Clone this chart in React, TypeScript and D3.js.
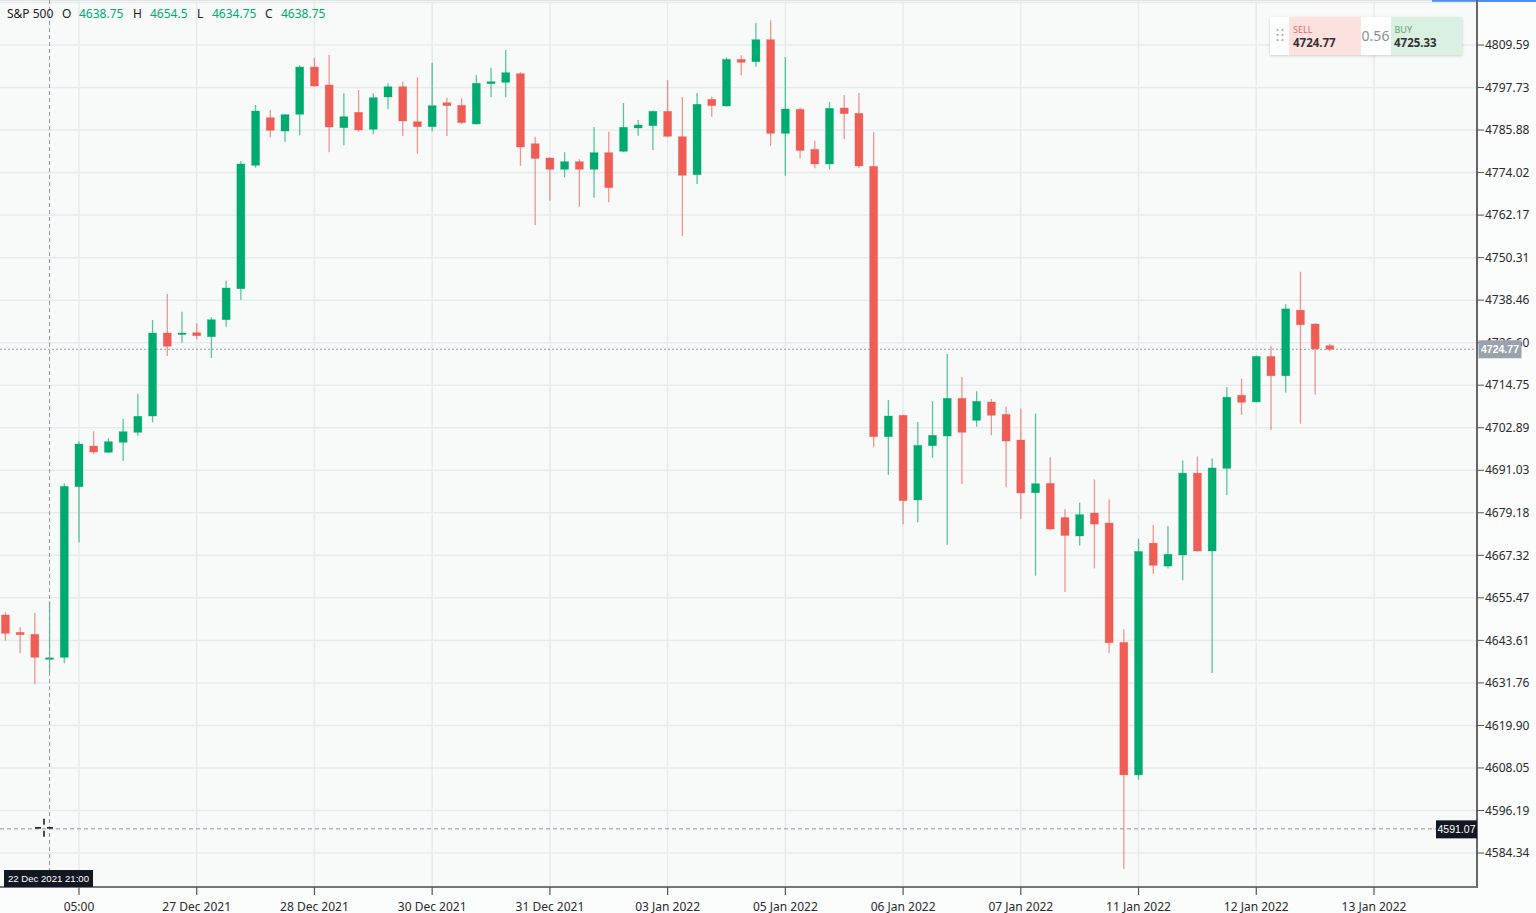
import React from "react";
import * as d3 from "d3";

const openVals = [
  4650.69, 4645.86, 4645.3, 4638.75, 4638.89, 4686.45, 4697.8, 4696.04, 4698.83, 4701.62,
  4706.16, 4729.3, 4728.94, 4729.38, 4728.27, 4733.01, 4741.65, 4776.05, 4789.32, 4785.61,
  4790.27, 4803.46, 4798.44, 4786.53, 4790.83, 4786.09, 4795.09, 4797.96, 4788.21, 4786.81,
  4793.5, 4792.78, 4787.57, 4798.8, 4799.19, 4801.59, 4782.07, 4778.09, 4774.94, 4777.06,
  4774.94, 4779.57, 4779.96, 4786.45, 4787.09, 4791.11, 4784.03, 4773.43, 4794.45, 4792.58,
  4805.6, 4804.93, 4811.07, 4784.97, 4791.66, 4780.51, 4776.42, 4792.03, 4790.55, 4775.77,
  4700.39, 4706.36, 4682.75, 4697.88, 4700.59, 4711.1, 4704.96, 4710.07, 4706.64, 4699.47,
  4684.78, 4687.4, 4677.87, 4672.71, 4679.12, 4676.33, 4643.05, 4606.11, 4670.73, 4664.32,
  4667.41, 4690.24, 4668.53, 4691.56, 4711.96, 4710.09, 4722.78, 4717.37, 4735.68, 4731.81,
  4725.76,
];
const highVals = [
  4651.44, 4647.26, 4651.24, 4654.5, 4687.4, 4699.11, 4701.9, 4699.95, 4705.41, 4712.38,
  4732.93, 4740.17, 4735.24, 4732.01, 4733.68, 4743.88, 4777.25, 4792.86, 4791.47, 4790.35,
  4803.93, 4806.05, 4806.8, 4796.12, 4797.04, 4796.12, 4798.91, 4799.36, 4800.59, 4804.66,
  4794.9, 4794.73, 4801.23, 4803.26, 4808.2, 4801.98, 4784.03, 4778.3, 4779.68, 4777.73,
  4786.73, 4785.42, 4793.42, 4788.68, 4791.3, 4799.75, 4795.01, 4796.21, 4795.18, 4806.16,
  4806.72, 4815.72, 4816.48, 4806.24, 4792.17, 4782.91, 4793.7, 4795.65, 4796.21, 4785.25,
  4710.62, 4706.5, 4704.49, 4710.26, 4723.45, 4717.04, 4713.05, 4710.9, 4708.75, 4708.2,
  4706.8, 4694.73, 4680.24, 4681.96, 4688.49, 4682.86, 4646.67, 4671.93, 4675.8, 4675.58,
  4693.76, 4694.87, 4694.31, 4714.16, 4716.59, 4723.0, 4725.76, 4737.33, 4746.36, 4732.0,
  4726.29,
];
const lowVals = [
  4643.52, 4640.01, 4631.37, 4634.75, 4637.22, 4670.95, 4695.49, 4695.9, 4693.62, 4700.67,
  4704.41, 4722.89, 4726.6, 4727.55, 4722.33, 4731.06, 4738.59, 4775.38, 4783.86, 4782.63,
  4784.42, 4797.96, 4779.68, 4781.63, 4785.42, 4784.69, 4791.66, 4784.22, 4779.29, 4785.53,
  4784.22, 4787.5, 4787.4, 4795.01, 4795.01, 4775.94, 4759.35, 4766.18, 4772.71, 4764.51,
  4767.02, 4765.74, 4779.7, 4784.3, 4780.32, 4783.9, 4756.34, 4770.84, 4789.52, 4792.4,
  4801.14, 4803.54, 4781.52, 4773.15, 4777.95, 4775.22, 4774.94, 4783.3, 4775.3, 4697.44,
  4689.71, 4675.97, 4676.53, 4694.54, 4670.28, 4687.21, 4703.18, 4700.78, 4686.28, 4677.53,
  4661.64, 4674.4, 4657.1, 4670.06, 4663.68, 4640.06, 4579.85, 4604.77, 4662.12, 4663.68,
  4660.36, 4668.4, 4634.54, 4684.17, 4706.44, 4709.9, 4702.26, 4712.74, 4704.01, 4712.18,
  4724.31,
];
const closeVals = [
  4645.58, 4645.19, 4638.89, 4638.75, 4686.56, 4698.36, 4696.13, 4699.0, 4701.79, 4706.08,
  4729.3, 4725.59, 4729.3, 4728.55, 4733.01, 4741.85, 4776.42, 4791.19, 4785.81, 4790.16,
  4803.46, 4798.16, 4786.73, 4789.6, 4785.89, 4794.9, 4797.96, 4788.4, 4786.81, 4792.67,
  4792.67, 4787.93, 4798.91, 4799.36, 4801.87, 4781.15, 4777.95, 4774.94, 4777.06, 4774.94,
  4779.57, 4769.81, 4786.65, 4787.29, 4791.11, 4784.14, 4773.27, 4793.06, 4792.67, 4805.6,
  4804.77, 4811.07, 4784.97, 4791.75, 4780.18, 4776.42, 4791.94, 4790.44, 4775.86, 4700.39,
  4706.16, 4682.55, 4697.99, 4700.78, 4711.1, 4701.62, 4710.26, 4706.36, 4699.19, 4684.7,
  4687.29, 4674.66, 4672.85, 4678.67, 4676.03, 4642.94, 4606.11, 4668.42, 4664.54, 4667.63,
  4690.24, 4668.53, 4691.67, 4711.4, 4709.98, 4722.78, 4717.37, 4736.02, 4731.59, 4724.87,
  4724.77,
];

const yTicks = [
  4584.34, 4596.19, 4608.05, 4619.9, 4631.76, 4643.61, 4655.47, 4667.32, 4679.18, 4691.03,
  4702.89, 4714.75, 4726.6, 4738.46, 4750.31, 4762.17, 4774.02, 4785.88, 4797.73, 4809.59,
];
const extraGrid = [4821.44];
const xTickIdx = [5, 13, 21, 29, 37, 45, 53, 61, 69, 77, 85, 93];
const xTickLabels = [
  "05:00", "27 Dec 2021", "28 Dec 2021", "30 Dec 2021", "31 Dec 2021", "03 Jan 2022",
  "05 Jan 2022", "06 Jan 2022", "07 Jan 2022", "11 Jan 2022", "12 Jan 2022", "13 Jan 2022",
];

const lastPrice = 4724.77;
const buyPrice = 4725.33;
const spread = "0.56";
const crossIdx = 3;
const crossPrice = 4591.07;
const crossTime = "22 Dec 2021 21:00";
const headerName = "S&P 500";

const W = 1536;
const H = 913;
const plotR = 1477;
const plotB = 887;

const GREEN = "#00ab6f";
const RED = "#ef5e55";
const FONT = "'Noto Sans', 'Open Sans', sans-serif";
const LABEL_FONT = "'Liberation Sans', Arial, sans-serif";

export default function App() {
  const x = d3.scaleLinear().domain([0, 93]).range([5.4, 1374]);
  const y = d3.scaleLinear().domain([4584.34, 4809.59]).range([853, 45]);

  const candles = openVals.map((o, i) => ({
    i,
    o,
    h: highVals[i],
    l: lowVals[i],
    c: closeVals[i],
  }));

  const cx = x(crossIdx);
  const cy = y(crossPrice);
  const py = y(lastPrice);
  const curX = 44;
  const curY = cy - 1;

  const o = candles[crossIdx];
  const hdr = [
    { t: headerName, x: 7, col: "#222" },
    { t: "O", x: 62, col: "#222" },
    { t: String(o.o), x: 79, col: GREEN },
    { t: "H", x: 133, col: "#222" },
    { t: String(o.h), x: 150, col: GREEN },
    { t: "L", x: 197, col: "#222" },
    { t: String(o.l), x: 212, col: GREEN },
    { t: "C", x: 265, col: "#222" },
    { t: String(o.c), x: 281, col: GREEN },
  ];

  return (
    <div style={{ position: "absolute", left: 0, top: 0, width: W, height: H }}>
      <svg width={W} height={H} style={{ display: "block", fontFamily: FONT }}>
        <defs>
          <filter id="sh" x="-10%" y="-20%" width="120%" height="150%">
            <feDropShadow dx="0" dy="1" stdDeviation="1.5" floodColor="#000" floodOpacity="0.18" />
          </filter>
        </defs>
        <rect x={0} y={0} width={W} height={H} fill="#fbfcfc" />
        <rect x={0} y={0} width={plotR} height={plotB} fill="#f8fafa" />
        <line x1={0} x2={1432} y1={0.5} y2={0.5} stroke="#e2e5e8" />
        <rect x={1432} y={0} width={W - 1432} height={2} fill="#4a8ef0" />

        {/* grid */}
        {[...yTicks, ...extraGrid].map((t) => (
          <line key={"gy" + t} x1={0} x2={plotR} y1={y(t)} y2={y(t)} stroke="#e6ebeb" strokeWidth={1.5} />
        ))}
        {xTickIdx.map((t) => (
          <line key={"gx" + t} x1={x(t)} x2={x(t)} y1={0} y2={plotB} stroke="#e6ebeb" strokeWidth={1.5} />
        ))}

        {/* price line */}
        <line x1={0} x2={plotR} y1={py} y2={py} stroke="#9aa1b4" strokeWidth={1} strokeDasharray="2,2" />

        {/* candles */}
        {candles.map((d) => {
          const up = d.c >= d.o;
          const col = up ? GREEN : RED;
          const top = y(Math.max(d.o, d.c));
          const bot = y(Math.min(d.o, d.c));
          const hgt = Math.max(1.5, bot - top);
          const xc = x(d.i);
          return (
            <g key={d.i}>
              <line x1={xc} x2={xc} y1={y(d.h)} y2={y(d.l)} stroke={col} strokeOpacity={0.65} strokeWidth={1.3} />
              <rect x={xc - 4} y={top} width={8} height={hgt} fill={col} stroke={col} strokeOpacity={0.5} strokeWidth={0.6} />
            </g>
          );
        })}

        {/* crosshair */}
        <line x1={cx} x2={cx} y1={0} y2={plotB} stroke="#8f95a3" strokeWidth={1} strokeDasharray="4,3" />
        <line x1={0} x2={1436} y1={cy} y2={cy} stroke="#8f95a3" strokeWidth={1} strokeDasharray="4,3" />
        <g stroke="#111" strokeWidth={1.5}>
          <line x1={curX - 9} x2={curX - 3} y1={curY} y2={curY} />
          <line x1={curX + 3} x2={curX + 9} y1={curY} y2={curY} />
          <line x1={curX} x2={curX} y1={curY - 9} y2={curY - 3} />
          <line x1={curX} x2={curX} y1={curY + 3} y2={curY + 9} />
        </g>

        {/* axes */}
        <line x1={plotR} x2={plotR} y1={0} y2={plotB + 1} stroke="#666" strokeWidth={2} />
        <line x1={0} x2={plotR} y1={plotB} y2={plotB} stroke="#777" strokeWidth={2} />
        {yTicks.map((t) => (
          <g key={"yt" + t}>
            <line x1={plotR} x2={plotR + 7} y1={y(t)} y2={y(t)} stroke="#555" strokeWidth={1} />
            <text x={plotR + 8} y={y(t)} dy="0.35em" fontSize={12} fill="#2a2a2a">
              {t.toFixed(2)}
            </text>
          </g>
        ))}
        {xTickIdx.map((t, k) => (
          <g key={"xt" + t}>
            <line x1={x(t)} x2={x(t)} y1={plotB} y2={plotB + 8} stroke="#555" strokeWidth={1.2} />
            <text x={x(t)} y={911} textAnchor="middle" fontSize={12} fill="#2a2a2a">
              {xTickLabels[k]}
            </text>
          </g>
        ))}

        {/* last price label */}
        <rect x={1478.5} y={py - 9} width={43} height={18} fill="#9aa2ad" />
        <text x={1500} y={py} dy="0.35em" textAnchor="middle" fontSize={10.5} fontWeight={600} fill="#fff" fontFamily={LABEL_FONT}>
          {lastPrice.toFixed(2)}
        </text>

        {/* crosshair labels */}
        <rect x={1436} y={cy - 8.5} width={41} height={18} fill="#131722" />
        <text x={1456.5} y={cy + 0.5} dy="0.35em" textAnchor="middle" fontSize={10.5} fill="#fff" fontFamily={LABEL_FONT}>
          {crossPrice.toFixed(2)}
        </text>
        <rect x={4} y={870} width={89} height={17} fill="#131722" />
        <text x={48.5} y={879} dy="0.35em" textAnchor="middle" fontSize={9.6} fill="#fff" fontFamily={LABEL_FONT}>
          {crossTime}
        </text>

        {/* header */}
        {hdr.map((h, k) => (
          <text key={"h" + k} x={h.x} y={18} fontSize={12} fill={h.col}>
            {h.t}
          </text>
        ))}

        {/* sell / buy widget */}
        <g>
          <rect x={1270} y={17} width={192} height={38} rx={2} fill="#fff" filter="url(#sh)" />
          <rect x={1289} y={17} width={72} height={38} fill="#fde1df" />
          <rect x={1391} y={17} width={71} height={38} fill="#daf0e3" />
          {[0, 1, 2].map((r) =>
            [0, 1].map((c) => (
              <circle key={"d" + r + c} cx={1277.5 + c * 5} cy={30 + r * 5} r={1} fill="#9aa0a8" />
            ))
          )}
          <text x={1293} y={32.5} fontSize={9} fill="#e06a66">SELL</text>
          <text x={1293} y={47} fontSize={11.5} fontWeight={700} fill="#333">{lastPrice.toFixed(2)}</text>
          <text x={1375.5} y={41} textAnchor="middle" fontSize={14} fill="#8a8f96">{spread}</text>
          <text x={1394.5} y={32.5} fontSize={9} fill="#5fa46f">BUY</text>
          <text x={1394} y={47} fontSize={11.5} fontWeight={700} fill="#333">{buyPrice.toFixed(2)}</text>
        </g>
      </svg>
    </div>
  );
}
